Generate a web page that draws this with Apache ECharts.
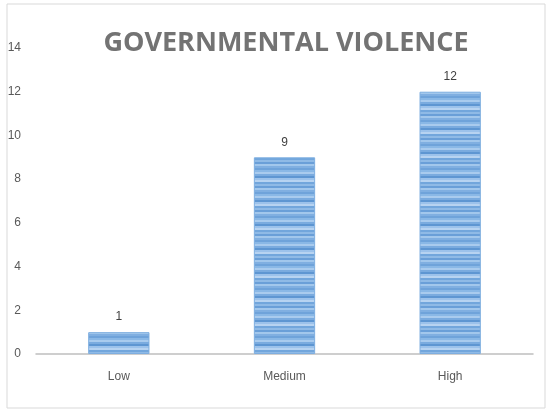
<!DOCTYPE html>
<html><head><meta charset="utf-8">
<script src="https://cdn.jsdelivr.net/npm/echarts@6/dist/echarts.min.js"></script>
<style>html,body{margin:0;padding:0;background:#fff}#c{width:551px;height:411px}</style>
</head><body><div id="c"></div>
<script>
const categories = ['Low', 'Medium', 'High'];
const values = [1, 9, 12];
const yTicks = [0, 2, 4, 6, 8, 10, 12, 14];

// striped pattern
const pc = document.createElement('canvas');
pc.width = 4; pc.height = 24;
const g = pc.getContext('2d');
const shades = ['#6fa3da','#8ab8e6','#a9cbee','#7aabdf','#5e96d2','#9cc2eb','#b7d3f1','#72a6dc','#8fbae6','#6a9fd8','#a2c7ec','#80afe1'];
for (let i = 0; i < 24; i += 2) { g.fillStyle = shades[(i/2) % shades.length]; g.fillRect(0, i, 4, 2); }

const chart = echarts.init(document.getElementById('c'));
chart.setOption({
  animation: false,
  title: {
    text: 'GOVERNMENTAL VIOLENCE', left: 281, top: 25, textAlign: 'center',
    textStyle: { fontFamily: 'Open Sans', fontWeight: 'bold', fontSize: 27, color: '#737373' }
  },
  graphic: [{ type: 'rect', shape: { x: 7, y: 4, width: 538, height: 404 }, style: { fill: 'none', stroke: '#d9d9d9', lineWidth: 1 }, silent: true }],
  grid: { left: 36, right: 18, top: 48, bottom: 57 },
  xAxis: {
    type: 'category', data: categories,
    axisLine: { lineStyle: { color: '#bfbfbf', width: 1.5 } },
    axisTick: { show: false },
    axisLabel: { color: '#595959', fontSize: 12, margin: 17, fontFamily: 'Liberation Sans' }
  },
  yAxis: {
    type: 'value', min: yTicks[0], max: yTicks[yTicks.length - 1], interval: 2,
    axisLine: { show: false }, axisTick: { show: false }, splitLine: { show: false },
    axisLabel: { color: '#595959', fontSize: 12, margin: 15, fontFamily: 'Liberation Sans' }
  },
  series: [{
    type: 'bar', data: values, barWidth: '37%',
    itemStyle: { color: { image: pc, repeat: 'repeat' }, borderColor: '#7eaee0', borderWidth: 1 },
    label: { show: true, position: 'top', distance: 9, color: '#404040', fontSize: 12, fontFamily: 'Liberation Sans' }
  }]
});
</script></body></html>
